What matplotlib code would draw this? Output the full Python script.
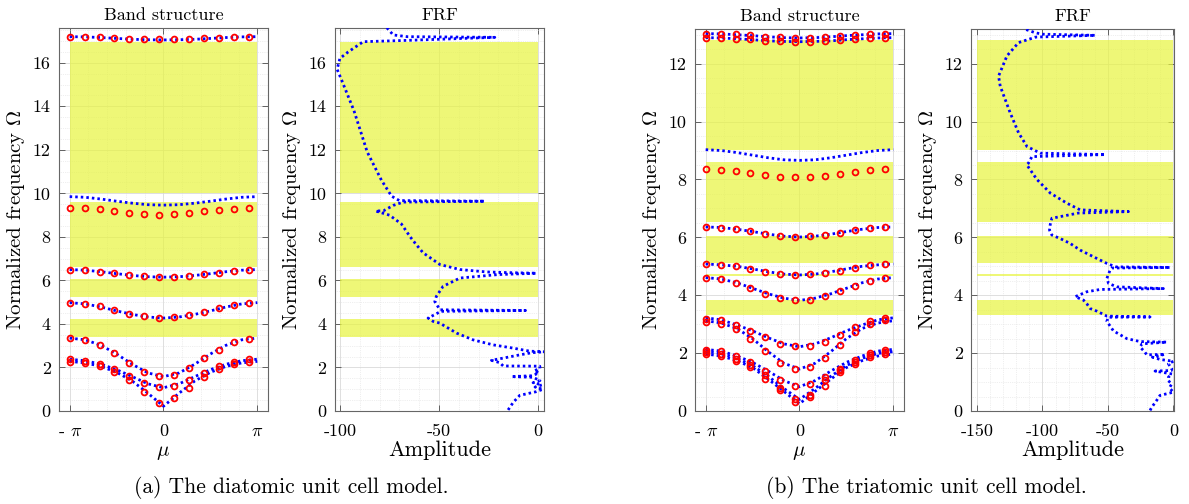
import numpy as np
import matplotlib.pyplot as plt
from matplotlib.ticker import MultipleLocator

plt.rcParams['font.family'] = 'cmr10'
plt.rcParams['mathtext.fontset'] = 'cm'
plt.rcParams['axes.unicode_minus'] = False

# wavenumber grids: analytic dispersion (blue) and FE model (red circles)
mu_an = np.linspace(-np.pi, np.pi, 13)
mu_fe = np.arange(-np.pi, np.pi, 0.5)

# ---- diatomic cell ----
bands_an_a = [
    [2.28, 2.21, 2.05, 1.78, 1.38, 0.82, 0.22, 0.82, 1.38, 1.78, 2.05, 2.21, 2.28],
    [2.38, 2.31, 2.15, 1.90, 1.58, 1.25, 1.07, 1.25, 1.58, 1.90, 2.15, 2.31, 2.38],
    [3.35, 3.27, 3.02, 2.62, 2.15, 1.75, 1.58, 1.75, 2.15, 2.62, 3.02, 3.27, 3.35],
    [4.98, 4.92, 4.78, 4.60, 4.44, 4.32, 4.27, 4.32, 4.44, 4.60, 4.78, 4.92, 4.98],
    [6.50, 6.47, 6.40, 6.31, 6.23, 6.17, 6.15, 6.17, 6.23, 6.31, 6.40, 6.47, 6.50],
    [9.85, 9.82, 9.74, 9.64, 9.55, 9.48, 9.46, 9.48, 9.55, 9.64, 9.74, 9.82, 9.85],
    [17.20, 17.19, 17.16, 17.12, 17.08, 17.06, 17.05, 17.06, 17.08, 17.12, 17.16, 17.19, 17.20],
]
bands_fe_a = [
    [2.26, 2.20, 2.07, 1.81, 1.43, 0.89, 0.35, 0.58, 1.05, 1.55, 1.92, 2.17, 2.27],
    [2.38, 2.32, 2.17, 1.94, 1.62, 1.31, 1.12, 1.15, 1.43, 1.76, 2.07, 2.27, 2.38],
    [3.35, 3.27, 3.04, 2.66, 2.20, 1.81, 1.62, 1.66, 1.97, 2.43, 2.81, 3.15, 3.33],
    [4.96, 4.92, 4.81, 4.62, 4.47, 4.35, 4.27, 4.30, 4.39, 4.55, 4.73, 4.85, 4.95],
    [6.50, 6.47, 6.41, 6.34, 6.25, 6.19, 6.15, 6.16, 6.22, 6.30, 6.36, 6.44, 6.48],
    [9.34, 9.31, 9.26, 9.18, 9.11, 9.05, 9.01, 9.03, 9.11, 9.17, 9.24, 9.29, 9.34],
    [17.20, 17.19, 17.17, 17.14, 17.11, 17.09, 17.08, 17.08, 17.10, 17.13, 17.16, 17.18, 17.20],
]
gaps_a = [(3.42, 4.24), (5.24, 6.08), (6.62, 9.60), (10.03, 16.97)]

frf_a_amp = [-15.1, -12.5, -9.2, -0.8, 2.5, -1.5, 2.0, -2.5, 1.0, -2.6, -13.5, -3.0,
             0.5, -2.0, 1.0, 0.9, -17.6, -19.3, -23.5, -17.6, -9.2, -3.0, 3.4, -4.2,
             -12.6, -22.7, -32.8, -41.1, -49.6, -53.0, -55.5, -51.3, -49.0, -6.3, -49.5,
             -52.1, -51.3, -47.9, -39.4, -20.0, -0.8, -15.0, -26.0, -39.4, -49.5, -58.0,
             -61.5, -64.5, -69.0, -75.0, -82.0, -78.0, -73.0, -68.0, -26.9, -70.0, -73.9,
             -79.0, -86.2, -92.9, -99.1, -101.4, -100.0, -95.8, -88.2, -66.0, -21.8,
             -66.0, -73.1, -76.5]
frf_a_freq = [0.05, 0.40, 0.72, 0.89, 1.00, 1.10, 1.20, 1.30, 1.40, 1.55, 1.58, 1.62,
              1.75, 1.85, 1.95, 2.06, 2.07, 2.22, 2.33, 2.43, 2.58, 2.68, 2.72, 2.75,
              2.89, 3.04, 3.27, 3.58, 4.04, 4.12, 4.27, 4.47, 4.58, 4.62, 4.65,
              5.03, 5.27, 5.73, 6.11, 6.27, 6.33, 6.36, 6.39, 6.50, 6.73, 7.27,
              7.65, 8.00, 8.60, 9.00, 9.19, 9.20, 9.45, 9.60, 9.64, 9.67, 9.87,
              10.6, 11.9, 13.8, 15.2, 15.7, 16.2, 16.5, 16.97, 17.03, 17.17,
              17.20, 17.28, 17.63]

# ---- triatomic cell ----
bands_an_b = [
    [1.97, 1.90, 1.74, 1.50, 1.10, 0.68, 0.25, 0.68, 1.10, 1.50, 1.74, 1.90, 1.97],
    [2.05, 1.99, 1.82, 1.57, 1.20, 0.78, 0.40, 0.78, 1.20, 1.57, 1.82, 1.99, 2.05],
    [2.13, 2.07, 1.90, 1.68, 1.38, 1.05, 0.84, 1.05, 1.38, 1.68, 1.90, 2.07, 2.13],
    [3.12, 3.04, 2.85, 2.50, 2.05, 1.65, 1.45, 1.65, 2.05, 2.50, 2.85, 3.04, 3.12],
    [3.22, 3.15, 2.97, 2.77, 2.53, 2.32, 2.22, 2.32, 2.53, 2.77, 2.97, 3.15, 3.22],
    [4.61, 4.56, 4.43, 4.24, 4.05, 3.90, 3.82, 3.90, 4.05, 4.24, 4.43, 4.56, 4.61],
    [5.08, 5.05, 5.00, 4.91, 4.81, 4.73, 4.70, 4.73, 4.81, 4.91, 5.00, 5.05, 5.08],
    [6.36, 6.34, 6.28, 6.20, 6.11, 6.04, 6.01, 6.04, 6.11, 6.20, 6.28, 6.34, 6.36],
    [9.03, 9.00, 8.93, 8.84, 8.75, 8.68, 8.66, 8.68, 8.75, 8.84, 8.93, 9.00, 9.03],
    [12.90, 12.89, 12.86, 12.83, 12.79, 12.77, 12.76, 12.77, 12.79, 12.83, 12.86, 12.89, 12.90],
    [13.04, 13.03, 13.00, 12.97, 12.93, 12.90, 12.89, 12.90, 12.93, 12.97, 13.00, 13.03, 13.04],
]
bands_fe_b = [
    [1.96, 1.89, 1.73, 1.52, 1.12, 0.73, 0.31, 0.48, 0.88, 1.35, 1.64, 1.85, 1.98],
    [2.04, 1.98, 1.81, 1.58, 1.23, 0.80, 0.42, 0.54, 1.06, 1.40, 1.69, 1.92, 2.04],
    [2.12, 2.07, 1.89, 1.69, 1.37, 1.06, 0.85, 0.94, 1.17, 1.46, 1.77, 2.00, 2.12],
    [3.08, 3.02, 2.85, 2.50, 2.07, 1.67, 1.46, 1.52, 1.84, 2.29, 2.73, 3.02, 3.14],
    [3.19, 3.14, 2.96, 2.77, 2.54, 2.33, 2.24, 2.26, 2.40, 2.64, 2.91, 3.10, 3.23],
    [4.60, 4.55, 4.43, 4.24, 4.06, 3.91, 3.83, 3.85, 3.97, 4.14, 4.33, 4.50, 4.58],
    [5.08, 5.05, 5.01, 4.92, 4.81, 4.74, 4.71, 4.72, 4.76, 4.85, 4.95, 5.03, 5.08],
    [6.36, 6.34, 6.28, 6.21, 6.12, 6.06, 6.01, 6.03, 6.08, 6.16, 6.24, 6.33, 6.36],
    [8.35, 8.34, 8.29, 8.23, 8.16, 8.10, 8.07, 8.08, 8.13, 8.20, 8.26, 8.32, 8.35],
    [12.90, 12.89, 12.87, 12.84, 12.80, 12.77, 12.76, 12.76, 12.78, 12.82, 12.86, 12.89, 12.90],
    [13.04, 13.03, 13.01, 12.98, 12.94, 12.91, 12.90, 12.90, 12.92, 12.96, 13.00, 13.03, 13.04],
]
gaps_b = [(3.31, 3.85), (4.67, 4.74), (5.10, 6.06), (6.52, 8.59), (9.03, 12.81)]

frf_b_amp = [-17.8, -16.5, -13.0, -10.2, 0.0, -3.0, -1.2, -4.0, -3.8, -1.0, -14.0, -1.5,
             -1.2, -3.8, 0.0, -10.0, -16.0, -6.4, -20.3, -22.0, -25.4, -24.0, -5.1,
             -25.4, -35.5, -45.8, -50.8, -49.6, -17.8, -50.8, -58.4, -63.5, -66.0,
             -68.6, -75.0, -66.1, -55.9, -7.6, -43.2, -49.5, -50.8, -48.3, -47.0, -2.5,
             -43.9, -50.8, -58.4, -71.2, -78.8, -86.0, -92.8, -94.6, -94.0, -92.8,
             -72.5, -34.3, -71.2, -81.3, -94.0, -104.2, -112.0, -110.6, -108.0, -52.1,
             -101.7, -111.8, -118.2, -124.6, -132.2, -133.5, -127.1, -118.2, -105.0,
             -59.7, -100.0, -105.5, -114.4]
frf_b_freq = [0.02, 0.13, 0.35, 0.54, 0.65, 0.80, 0.94, 1.05, 1.17, 1.28, 1.38, 1.40,
              1.46, 1.63, 1.72, 1.78, 1.86, 1.96, 1.94, 2.05, 2.21, 2.32, 2.38,
              2.40, 2.50, 2.77, 3.10, 3.24, 3.25, 3.28, 3.45, 3.54, 3.70,
              3.83, 3.95, 4.12, 4.20, 4.23, 4.29, 4.41, 4.58, 4.87, 4.94, 4.96,
              4.98, 5.10, 5.27, 5.56, 5.79, 5.95, 6.08, 6.25, 6.45, 6.66,
              6.84, 6.89, 6.95, 7.18, 7.53, 8.00, 8.51, 8.57, 8.79, 8.86,
              8.91, 9.14, 9.61, 10.30, 11.22, 11.57, 12.27, 12.73, 12.92,
              12.98, 13.02, 13.07, 13.21]

GAP_COLOR = (0.904, 0.956, 0.243)
DOT = dict(color='b', lw=2.0, linestyle=(0, (0.9, 1.1)), dash_capstyle='butt')


def style_axes(ax, ylim, xlim):
    ax.set_xlim(*xlim)
    ax.set_ylim(*ylim)
    ax.yaxis.set_major_locator(MultipleLocator(2))
    ax.yaxis.set_minor_locator(MultipleLocator(0.5))
    ax.grid(which='major', color='0.85', lw=0.6, zorder=0)
    ax.grid(which='minor', color='0.88', lw=0.5, linestyle=':', zorder=0)
    ax.set_axisbelow(True)
    ax.tick_params(which='major', direction='in', top=True, right=True,
                   length=4, width=0.6, color='0.3', labelsize=13, pad=6)
    ax.tick_params(axis='x', which='major', pad=9)
    ax.tick_params(which='minor', length=0)
    for s in ax.spines.values():
        s.set_color('0.4')
        s.set_linewidth(0.8)
    ax.set_ylabel(r'Normalized frequency $\Omega$', fontsize=15, labelpad=4)


def band_panel(ax, an, fe, gaps, ytop):
    style_axes(ax, (0, ytop), (-3.5, 3.5))
    for lo, hi in gaps:
        ax.fill_between([-np.pi, np.pi], lo, hi, color=GAP_COLOR, alpha=0.7,
                        lw=0, zorder=1)
    for b in an:
        ax.plot(mu_an, b, zorder=3, **DOT)
    for b in fe:
        ax.plot(mu_fe, b, 'o', ms=4.2, mfc='none', mec='r', mew=1.3, zorder=4)
    ax.set_xticks([-np.pi, 0, np.pi])
    ax.set_xticklabels([r'- $\pi$', '0', r'$\pi$'])
    ax.xaxis.set_minor_locator(MultipleLocator(np.pi / 5))
    ax.set_xlabel(r'$\mu$', fontsize=15, labelpad=4)
    ax.set_title('Band structure', fontsize=13, pad=6)


def frf_panel(ax, amp, freq, gaps, ytop, xmin, amin, xticks):
    style_axes(ax, (0, ytop), (xmin, 3 if amin == -100 else 0.5))
    for lo, hi in gaps:
        ax.fill_between([amin, 0], lo, hi, color=GAP_COLOR, alpha=0.7,
                        lw=0, zorder=1)
    ax.plot(amp, freq, zorder=3, clip_on=True, **DOT)
    ax.set_xticks(xticks)
    ax.set_xticklabels([str(t) for t in xticks])
    ax.xaxis.set_minor_locator(MultipleLocator(10))
    ax.set_xlabel('Amplitude', fontsize=16, labelpad=1)
    ax.set_title('FRF', fontsize=13, pad=6)


fig = plt.figure(figsize=(11.89, 5.04), dpi=100)
ax1 = fig.add_axes([0.0496, 0.1845, 0.1758, 0.760])
ax2 = fig.add_axes([0.2817, 0.1845, 0.1758, 0.760])
ax3 = fig.add_axes([0.5845, 0.1845, 0.1758, 0.758])
ax4 = fig.add_axes([0.8167, 0.1845, 0.1707, 0.758])

band_panel(ax1, bands_an_a, bands_fe_a, gaps_a, 17.6)
frf_panel(ax2, frf_a_amp, frf_a_freq, gaps_a, 17.6, -102.5, -100, [-100, -50, 0])
band_panel(ax3, bands_an_b, bands_fe_b, gaps_b, 13.2)
frf_panel(ax4, frf_b_amp, frf_b_freq, gaps_b, 13.2, -154.5, -150, [-150, -100, -50, 0])

fig.text(0.245, 0.033, '(a) The diatomic unit cell model.', ha='center', va='center',
         fontsize=15.5)
fig.text(0.779, 0.033, '(b) The triatomic unit cell model.', ha='center', va='center',
         fontsize=15.5)

fig.savefig('out.png', dpi=100)
